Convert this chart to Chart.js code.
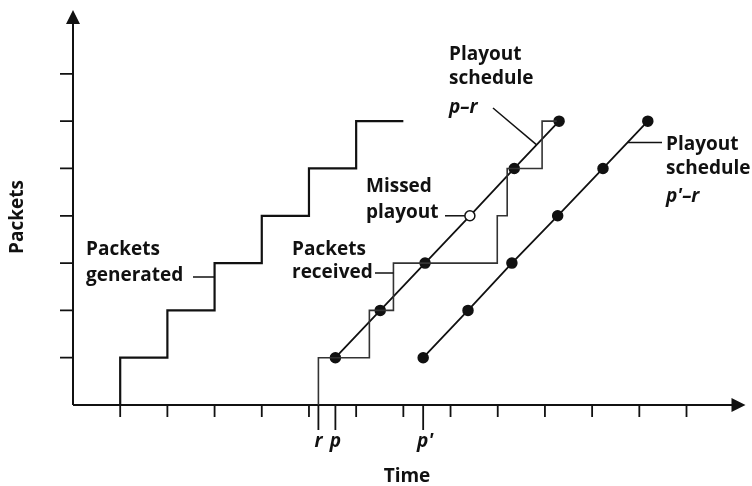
<!DOCTYPE html>
<html>
<head>
<meta charset="utf-8">
<script src="https://cdn.jsdelivr.net/npm/chart.js@4/dist/chart.umd.min.js"></script>
<style>
  html, body { margin: 0; padding: 0; background: #fff; }
  #wrap { position: relative; width: 752px; height: 486px; }
</style>
</head>
<body>
<div id="wrap"><canvas id="chart" width="752" height="486"></canvas></div>
<script>
// packets generated (one per time unit)
var genTimes = [1, 2, 3, 4, 5, 6, 7];
var genCounts = [0, 1, 2, 3, 4, 5, 6];
// packets received (variable network delay)
var recvTimes = [5.2, 6.28, 6.79, 8.99, 9.2, 9.94, 10.25];
var recvCounts = [0, 1, 2, 3, 4, 5, 6];
// playout schedule p-r
var playTimes = [5.56, 6.51, 7.46, 8.41, 9.35, 10.30];
var playCounts = [1, 2, 3, 4, 5, 6];
var playMissed = [false, false, false, true, false, false];
// playout schedule p'-r
var play2Times = [7.42, 8.37, 9.30, 10.27, 11.23, 12.18];
var play2Counts = [1, 2, 3, 4, 5, 6];
// axis ticks
var xTicks = [1, 2, 3, 4, 5, 6, 7, 8, 9, 10, 11, 12, 13];
var yTicks = [1, 2, 3, 4, 5, 6, 7];
var markLabels = ['r', 'p', "p'"];
var markTimes = [5.2, 5.56, 7.42];

function pts(xs, ys) {
  var out = [];
  for (var i = 0; i < xs.length; i++) out.push({ x: xs[i], y: ys[i] });
  return out;
}

var INK = '#111';
var FONT = '"Open Sans", sans-serif';

var axesPlugin = {
  id: 'axesAndNotes',
  beforeDatasetsDraw: function (chart) {
    var ctx = chart.ctx, xs = chart.scales.x, ys = chart.scales.y;
    var x0 = xs.getPixelForValue(0), y0 = ys.getPixelForValue(0);
    var xEnd = xs.getPixelForValue(xs.max), yEnd = ys.getPixelForValue(ys.max);
    ctx.save();
    ctx.strokeStyle = INK;
    ctx.fillStyle = INK;
    ctx.lineWidth = 2;
    ctx.beginPath();
    ctx.moveTo(x0, y0); ctx.lineTo(xEnd - 12, y0);
    ctx.moveTo(x0, y0); ctx.lineTo(x0, yEnd + 12);
    ctx.stroke();
    // arrow heads
    ctx.beginPath();
    ctx.moveTo(xEnd, y0); ctx.lineTo(xEnd - 14, y0 - 7); ctx.lineTo(xEnd - 14, y0 + 7); ctx.closePath();
    ctx.moveTo(x0, yEnd); ctx.lineTo(x0 - 7, yEnd + 14); ctx.lineTo(x0 + 7, yEnd + 14); ctx.closePath();
    ctx.fill();
    // ticks
    ctx.lineWidth = 1.8;
    ctx.beginPath();
    xTicks.forEach(function (v) {
      var px = xs.getPixelForValue(v);
      ctx.moveTo(px, y0); ctx.lineTo(px, y0 + 12);
    });
    yTicks.forEach(function (v) {
      var py = ys.getPixelForValue(v);
      ctx.moveTo(x0 - 13, py); ctx.lineTo(x0, py);
    });
    markTimes.forEach(function (v) {
      var px = xs.getPixelForValue(v);
      ctx.moveTo(px, y0); ctx.lineTo(px, y0 + 25);
    });
    ctx.stroke();
    ctx.restore();
  },
  afterDatasetsDraw: function (chart) {
    var ctx = chart.ctx, xs = chart.scales.x, ys = chart.scales.y;
    var y0 = ys.getPixelForValue(0);
    ctx.save();
    ctx.fillStyle = INK;
    ctx.strokeStyle = INK;
    ctx.textBaseline = 'middle';
    ctx.textAlign = 'left';

    function txt(s, x, y, italic) {
      ctx.font = (italic ? 'italic ' : '') + 'bold 19px ' + FONT;
      ctx.fillText(s, x, y);
    }
    function seg(ax, ay, bx, by) {
      ctx.beginPath(); ctx.moveTo(ax, ay); ctx.lineTo(bx, by); ctx.stroke();
    }
    ctx.lineWidth = 1.5;

    // axis titles
    ctx.textAlign = 'center';
    txt('Time', 407, 477);
    ctx.save();
    ctx.translate(18, 217);
    ctx.rotate(-Math.PI / 2);
    txt('Packets', 0, 0);
    ctx.restore();

    // r, p, p' marks
    markLabels.forEach(function (s, i) {
      txt(s, xs.getPixelForValue(markTimes[i]) + (i === 2 ? 2 : 0), y0 + 37, true);
    });
    ctx.textAlign = 'left';

    // packets generated
    txt('Packets', 86, 250);
    txt('generated', 86, 276);
    seg(193, 277, xs.getPixelForValue(genTimes[2]), 277);

    // packets received
    txt('Packets', 292, 250);
    txt('received', 292, 273);
    seg(375, 273, xs.getPixelForValue(recvTimes[2]), 273);

    // missed playout
    var mi = playMissed.indexOf(true);
    var mx = xs.getPixelForValue(playTimes[mi]), my = ys.getPixelForValue(playCounts[mi]);
    txt('Missed', 366, 187);
    txt('playout', 366, 213);
    seg(445, my, mx - 5, my);

    // playout schedule p-r
    txt('Playout', 449, 55);
    txt('schedule', 449, 79);
    txt('p\u2013r', 449, 108, true);
    var t1 = playTimes[4] + (playTimes[5] - playTimes[4]) * 0.5;
    seg(493, 108, xs.getPixelForValue(t1), ys.getPixelForValue(5.5));

    // playout schedule p'-r
    txt('Playout', 666, 145);
    txt('schedule', 666, 169);
    txt("p'\u2013r", 666, 197, true);
    var t2 = play2Times[4] + (play2Times[5] - play2Times[4]) * 0.55;
    var ly = ys.getPixelForValue(5.55);
    seg(xs.getPixelForValue(t2), ly, 662, ly);

    ctx.restore();
  }
};

new Chart(document.getElementById('chart'), {
  type: 'scatter',
  data: {
    datasets: [
      {
        label: 'Packets generated',
        data: pts(genTimes, genCounts),
        showLine: true,
        stepped: 'after',
        borderColor: INK,
        borderWidth: 2.2,
        pointRadius: 0
      },
      {
        label: 'Packets received',
        data: pts(recvTimes, recvCounts),
        showLine: true,
        stepped: 'after',
        borderColor: '#333',
        borderWidth: 1.6,
        pointRadius: 0
      },
      {
        label: 'Playout schedule p-r',
        data: pts(playTimes, playCounts),
        showLine: true,
        borderColor: INK,
        borderWidth: 1.8,
        pointRadius: 5,
        pointBorderWidth: 1.5,
        pointBorderColor: INK,
        pointBackgroundColor: playMissed.map(function (m) { return m ? '#fff' : INK; })
      },
      {
        label: "Playout schedule p'-r",
        data: pts(play2Times, play2Counts),
        showLine: true,
        borderColor: INK,
        borderWidth: 1.8,
        pointRadius: 5,
        pointBorderWidth: 1.5,
        pointBorderColor: INK,
        pointBackgroundColor: INK
      }
    ]
  },
  options: {
    responsive: false,
    animation: false,
    layout: { padding: { left: 73, top: 10, right: 5, bottom: 81 } },
    scales: {
      x: { type: 'linear', min: 0, max: 14.25, display: false },
      y: { type: 'linear', min: 0, max: 8.35, display: false }
    },
    plugins: {
      legend: { display: false },
      tooltip: { enabled: false }
    }
  },
  plugins: [axesPlugin]
});
</script>
</body>
</html>
